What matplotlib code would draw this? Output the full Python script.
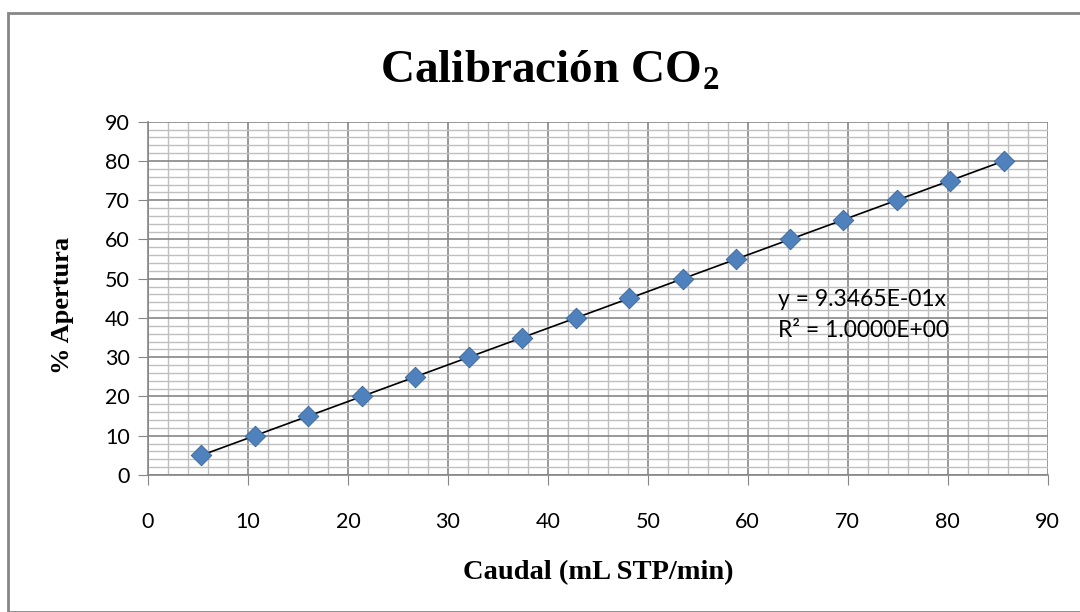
import numpy as np
import matplotlib.pyplot as plt
from matplotlib.patches import Rectangle

plt.rcParams['mathtext.fontset'] = 'custom'
plt.rcParams['mathtext.rm'] = 'Liberation Serif'
plt.rcParams['mathtext.bf'] = 'Liberation Serif:bold'

# Calibration data
caudal = [5.35, 10.70, 16.05, 21.40, 26.75, 32.10, 37.45, 42.80,
          48.15, 53.50, 58.85, 64.20, 69.55, 74.90, 80.25, 85.60]
apertura = [5, 10, 15, 20, 25, 30, 35, 40, 45, 50, 55, 60, 65, 70, 75, 80]
slope = 0.93465

fig = plt.figure(figsize=(10.8, 6.12), dpi=100)
ax = fig.add_axes([0.137, 0.224, 0.833, 0.577])

# Outer chart border
fig.patches.append(Rectangle((8 / 1080, 0), 1.1, 1 - 13 / 612, transform=fig.transFigure,
                             fill=False, edgecolor='#868686', linewidth=2, zorder=0))

# Trend line through origin
xt = np.array([caudal[0], caudal[-1]])
ax.plot(xt, slope * xt, color='black', linewidth=1.2, zorder=3)

ax.scatter(caudal, apertura, marker='D', s=110, color='#4F81BD',
           edgecolor='#3A6599', linewidth=0.6, zorder=4)

ax.set_xlim(0, 90)
ax.set_ylim(0, 90)
ax.set_xticks(np.arange(0, 91, 10))
ax.set_yticks(np.arange(0, 91, 10))
ax.set_xticks(np.arange(0, 91, 2), minor=True)
ax.set_yticks(np.arange(0, 91, 2), minor=True)
ax.grid(which='major', color='#868686', linewidth=1.2)
ax.grid(which='minor', color='#BFBFBF', linewidth=1.0)
ax.set_axisbelow(True)
ax.tick_params(which='minor', length=0)
ax.tick_params(which='major', length=7, color='#868686', labelsize=15.5, pad=6)
for lab in ax.get_xticklabels() + ax.get_yticklabels():
    lab.set_fontfamily('Lato')
for side in ['top', 'right']:
    ax.spines[side].set_visible(False)
for side in ['left', 'bottom']:
    ax.spines[side].set_color('#868686')
    ax.spines[side].set_linewidth(1.2)
ax.tick_params(axis='x', pad=20)

ax.text(63, 40.8, 'y = 9.3465E-01x\nR² = 1.0000E+00', fontsize=16.5, family='Lato',
        va='center', ha='left', linespacing=1.55)

fig.text(0.509, 0.885, r'Calibración CO$_\mathbf{2}$', ha='center', va='center',
         fontsize=34, fontweight='bold', family='Liberation Serif')
ax.set_xlabel('Caudal (mL STP/min)', fontsize=20.5, fontweight='bold',
              family='Liberation Serif', labelpad=20)
ax.set_ylabel('% Apertura', fontsize=19, fontweight='bold',
              family='Liberation Serif')
ax.yaxis.set_label_coords(-0.082, 0.48)

fig.savefig('out.png', dpi=100)
